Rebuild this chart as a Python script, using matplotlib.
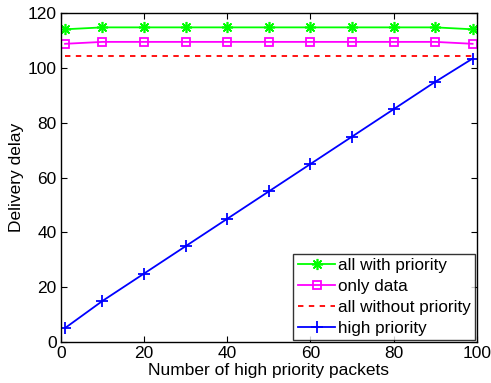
import matplotlib
matplotlib.use('Agg')
import matplotlib.pyplot as plt

plt.rcParams['font.family'] = ['Liberation Sans', 'DejaVu Sans']

x = [1, 10, 20, 30, 40, 50, 60, 70, 80, 90, 99]
all_with_priority = [114.2, 114.9, 114.9, 114.9, 114.9, 114.9, 114.9, 114.9, 114.9, 114.9, 114.2]
only_data = [108.9, 109.6, 109.6, 109.6, 109.6, 109.6, 109.6, 109.6, 109.6, 109.6, 108.9]
all_without_priority = [104.6] * len(x)
high_priority = [5.1, 15, 25, 35, 45, 55, 65, 75, 85, 95, 103.5]

fig = plt.figure(figsize=(4.91, 3.83), dpi=100)
ax = fig.add_axes([0.124, 0.107, 0.847, 0.858])

ax.plot(x, all_with_priority, color='#00ff00', marker=(8, 2, 0), markersize=8,
        markeredgewidth=1.2, linewidth=1.3, label='all with priority')
ax.plot(x, only_data, color='#ff00ff', marker='s', markersize=5.5,
        markerfacecolor='none', markeredgewidth=1.3, linewidth=1.3, label='only data')
ax.plot(x, all_without_priority, color='#ff0000', linestyle='--', dashes=(3, 3),
        linewidth=1.3, label='all without priority')
ax.plot(x, high_priority, color='#0000ff', marker='+', markersize=8,
        markeredgewidth=1.3, linewidth=1.3, label='high priority')

ax.set_xlim(0, 100)
ax.set_ylim(0, 120)
ax.set_xticks(range(0, 101, 20))
ax.set_yticks(range(0, 121, 20))
ax.tick_params(direction='in', top=True, right=True, labelsize=12.5, length=4, pad=3)
for s in ax.spines.values():
    s.set_linewidth(1.0)

ax.set_xlabel('Number of high priority packets', fontsize=12.5, labelpad=1)
ax.set_ylabel('Delivery delay', fontsize=12.5, labelpad=3)

leg = ax.legend(loc='lower right', fontsize=12.3, frameon=True, fancybox=False,
                edgecolor='black', borderpad=0.25, handlelength=2.2,
                handletextpad=0.15, labelspacing=0.35, borderaxespad=0.1)
leg.get_frame().set_linewidth(1.0)

fig.savefig('out.png', dpi=100, facecolor='white')
